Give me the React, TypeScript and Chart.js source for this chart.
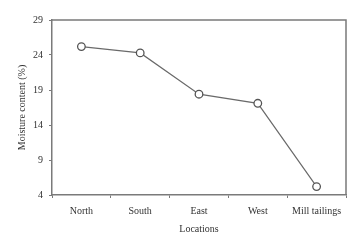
import React, { useEffect, useRef } from "react";
import { Chart, registerables } from "chart.js";

Chart.register(...registerables);

const categories = ["North", "South", "East", "West", "Mill tailings"];
const moisture = [25.2, 24.3, 18.4, 17.1, 5.2];
const yMin = 4;
const yMax = 29;
const yStep = 5;

const FONT = "'Liberation Serif', 'DejaVu Serif', serif";

const boxPlugin = {
  id: "boxPlugin",
  afterDraw(chart: any) {
    const { ctx, chartArea } = chart;
    ctx.save();
    ctx.strokeStyle = "#7a7a7a";
    ctx.lineWidth = 1.5;
    ctx.beginPath();
    ctx.moveTo(chartArea.left, chartArea.top);
    ctx.lineTo(chartArea.right, chartArea.top);
    ctx.lineTo(chartArea.right, chartArea.bottom);
    ctx.stroke();
    ctx.restore();
  },
};

export default function App() {
  const ref = useRef<HTMLCanvasElement | null>(null);

  useEffect(() => {
    document.body.style.margin = "0";
    const canvas = ref.current;
    if (!canvas) return;
    const chart = new Chart(canvas, {
      type: "line",
      data: {
        labels: categories,
        datasets: [
          {
            data: moisture,
            borderColor: "#6a6a6a",
            borderWidth: 1.2,
            pointRadius: 3.8,
            pointBorderWidth: 1.3,
            pointBackgroundColor: "#ffffff",
            pointBorderColor: "#555555",
            tension: 0,
          },
        ],
      },
      options: {
        animation: false,
        responsive: false,
        maintainAspectRatio: false,
        layout: { padding: { top: 20, right: 18, left: 0, bottom: 0 } },
        plugins: { legend: { display: false }, tooltip: { enabled: false } },
        scales: {
          x: {
            offset: true,
            grid: {
              display: true,
              offset: true,
              drawOnChartArea: false,
              drawTicks: true,
              tickLength: 3,
              color: "#7a7a7a",
            },
            border: { display: true, color: "#7a7a7a", width: 1.5 },
            ticks: {
              color: "#333333",
              font: { family: FONT, size: 10 },
              padding: 7,
              maxRotation: 0,
              autoSkip: false,
            },
            title: {
              display: true,
              text: "Locations",
              color: "#333333",
              font: { family: FONT, size: 10 },
              padding: { top: 0, bottom: 9 },
            },
            afterFit(scale: any) {
              scale.height = 49;
            },
          },
          y: {
            min: yMin,
            max: yMax,
            grid: {
              display: true,
              drawOnChartArea: false,
              drawTicks: true,
              tickLength: 3,
              color: "#7a7a7a",
            },
            border: { display: true, color: "#7a7a7a", width: 1.5 },
            ticks: {
              stepSize: yStep,
              color: "#333333",
              font: { family: FONT, size: 10 },
              padding: 6,
            },
            title: {
              display: true,
              text: "Moisture content (%)",
              color: "#333333",
              font: { family: FONT, size: 10 },
              padding: { top: 16, bottom: 0 },
            },
            afterFit(scale: any) {
              scale.width = 52;
            },
          },
        },
      },
      plugins: [boxPlugin],
    });
    return () => chart.destroy();
  }, []);

  return (
    <div style={{ width: 364, height: 244, position: "relative" }}>
      <canvas ref={ref} width={364} height={244} style={{ width: 364, height: 244, display: "block" }} />
    </div>
  );
}
